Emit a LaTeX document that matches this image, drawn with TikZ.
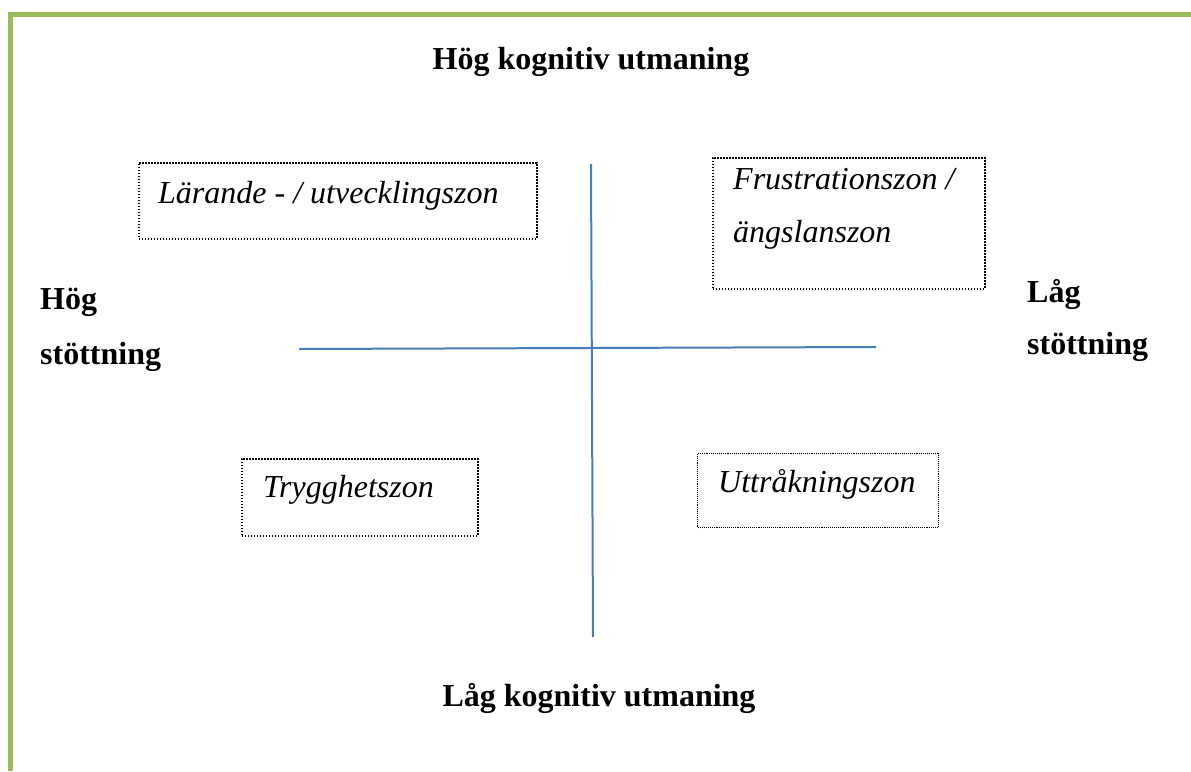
\documentclass[tikz,border=0pt]{standalone}
\usepackage{fontspec}
\setmainfont{Liberation Serif}
\definecolor{frame}{HTML}{9BBB59}
\definecolor{axis}{HTML}{4A7EBB}
\begin{document}
\begin{tikzpicture}[x=1pt,y=-1pt,
  lbl/.style={font=\fontsize{32}{38}\selectfont\bfseries, inner sep=0pt, anchor=base},
  side/.style={lbl, anchor=base west},
  zone/.style={draw=black, line width=1.6pt, dash pattern=on 1.6pt off 1.4pt, anchor=north west,
     inner sep=0pt},
  ztext/.style={font=\fontsize{32}{38}\selectfont\itshape, anchor=base west, inner sep=0pt},
  axisline/.style={draw=axis, line width=2pt}]
\useasboundingbox (0,0) rectangle (1191,771);
\fill[white] (0,0) rectangle (1191,771);
\draw[frame, line width=5pt] (10,771) -- (10,14) -- (1191,14);
\node[lbl] (top) at (591,69) {Hög kognitiv utmaning};
\node[lbl] (bottom) at (599,706) {Låg kognitiv utmaning};
\node[side] (left1) at (40,309) {Hög};
\node[side] (left2) at (40,364) {stöttning};
\node[side] (right1) at (1027,302) {Låg};
\node[side] (right2) at (1027,354) {stöttning};
\node[zone, minimum width=398pt, minimum height=76pt] (z1) at (138,162) {};
\node[ztext] (t1) at (158,203) {Lärande - / utvecklingszon};
\node[zone, minimum width=272pt, minimum height=131pt] (z2) at (712,157) {};
\node[ztext] (t2a) at (733,189) {Frustrationszon /};
\node[ztext] (t2b) at (733,242) {ängslanszon};
\node[zone, minimum width=236pt, minimum height=77pt] (z3) at (241,458) {};
\node[ztext] (t3) at (263,497) {Trygghetszon};
\node[zone, minimum width=241pt, minimum height=74pt, line width=1.1pt, dash pattern=on 1.1pt off 1pt] (z4) at (697,453) {};
\node[ztext] (t4) at (718,492) {Uttråkningszon};
\coordinate (vtop) at (591,164);
\coordinate (vbot) at (593,637);
\coordinate (hl) at (299,349);
\coordinate (hr) at (876,347);
\draw[axisline] (vtop) -- (vbot);
\draw[axisline] (hl) -- (hr);
\end{tikzpicture}
\end{document}
